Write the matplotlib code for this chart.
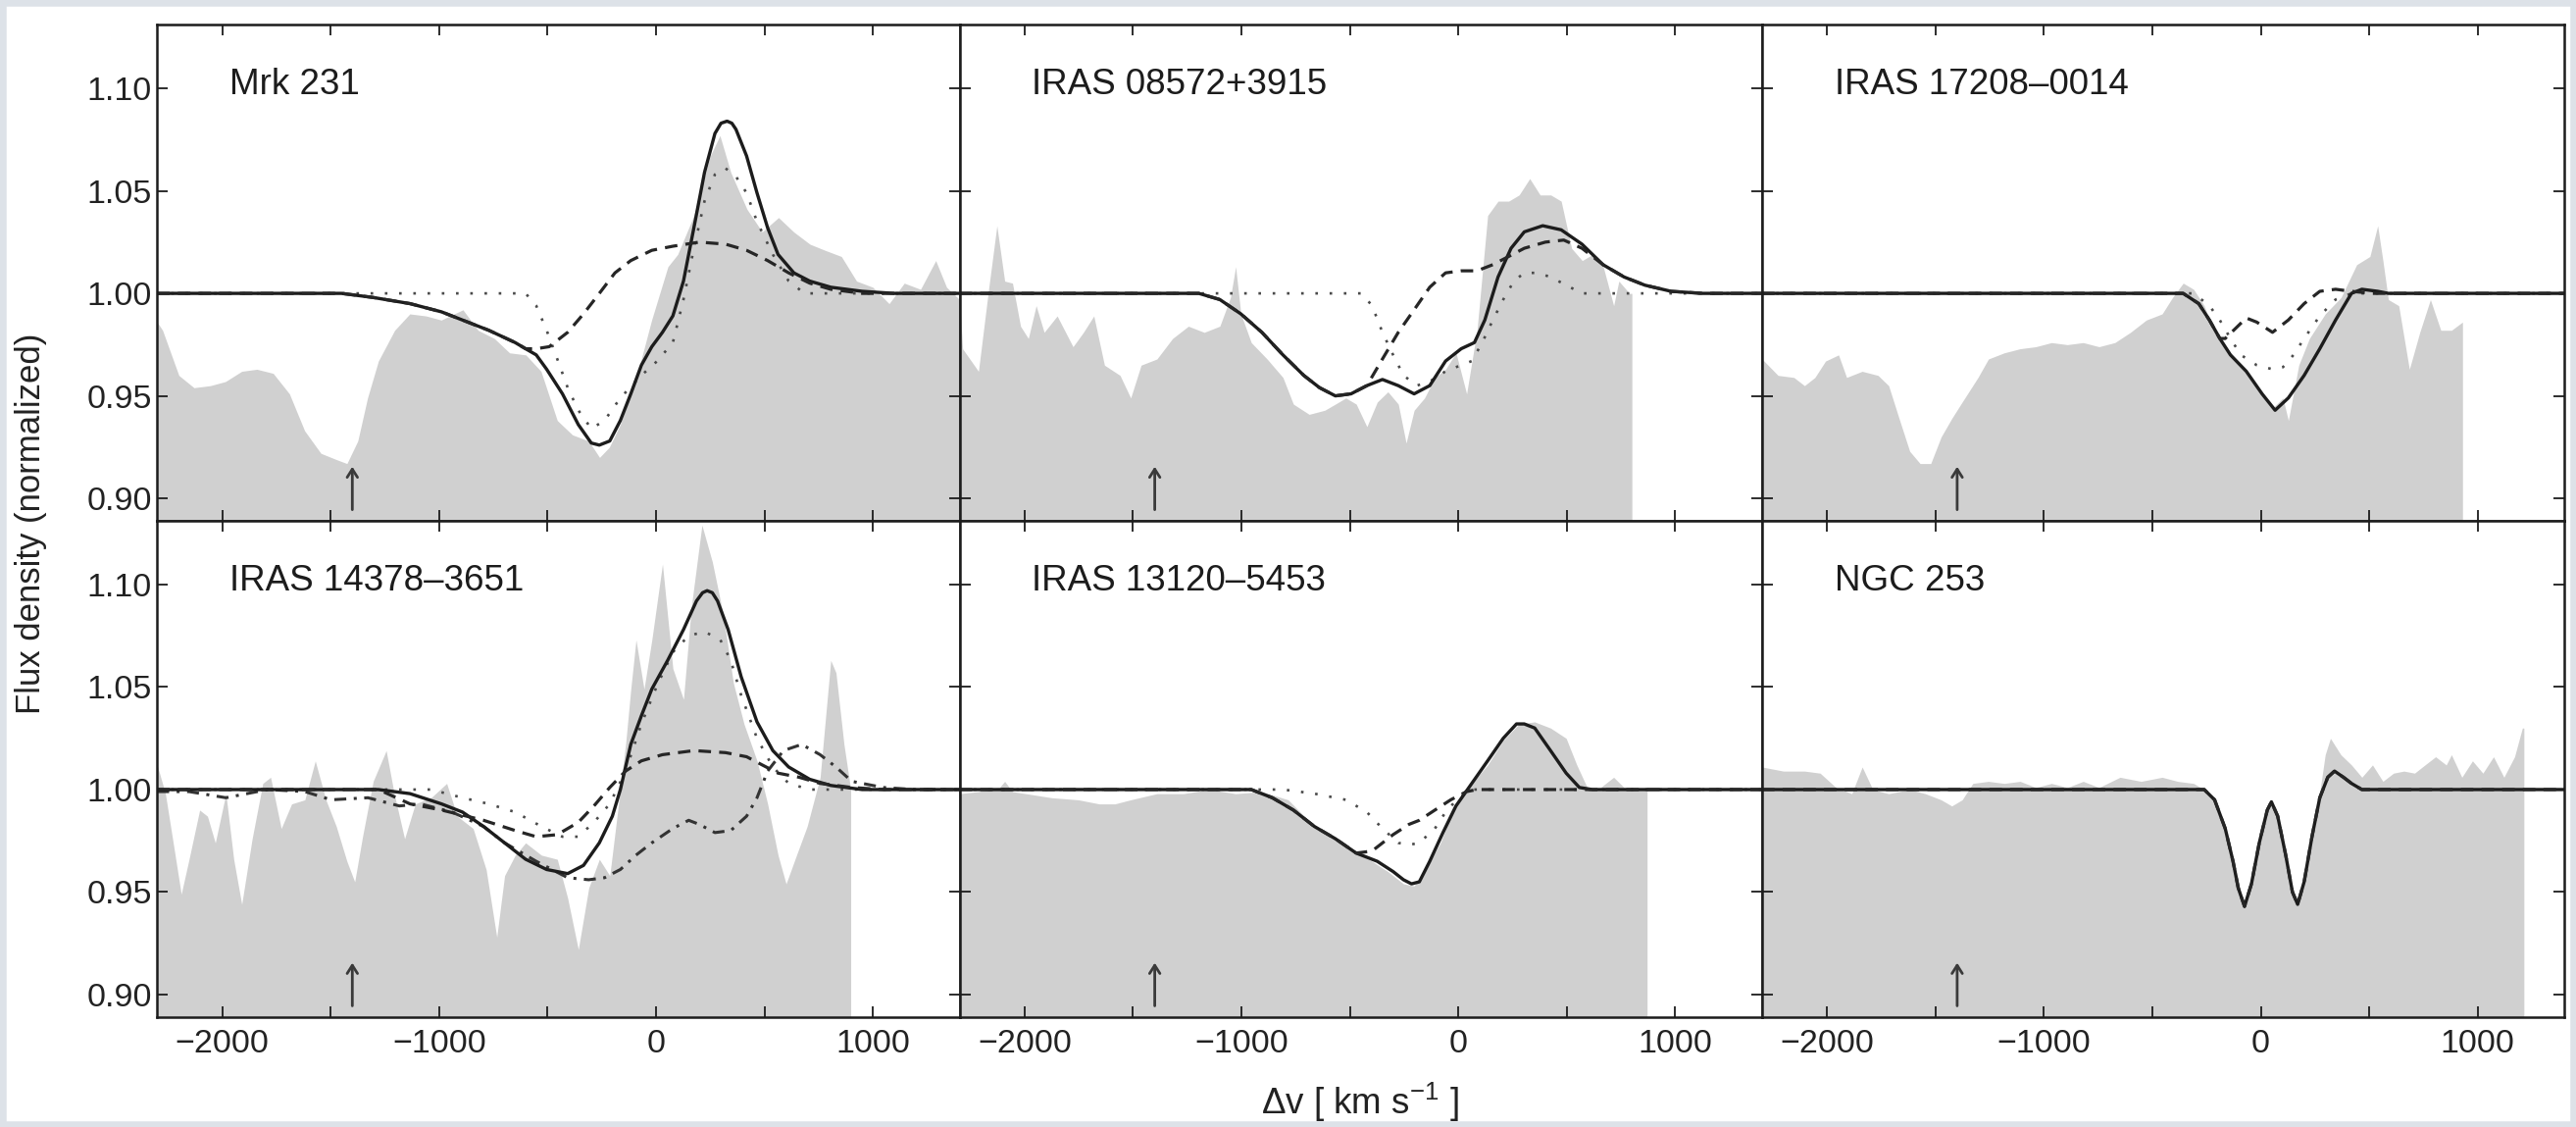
#coding:utf8
import matplotlib
matplotlib.use('Agg')
import matplotlib.pyplot as plt
from matplotlib.ticker import FixedLocator, FormatStrFormatter
from matplotlib.patches import Rectangle
import numpy as np

plt.rcParams['font.family'] = ['Liberation Sans', 'DejaVu Sans']
plt.rcParams['mathtext.fontset'] = 'custom'
plt.rcParams['mathtext.rm'] = 'Liberation Sans'
plt.rcParams['mathtext.default'] = 'regular'

# 面板名称
panel_names = ['Mrk 231', 'IRAS 08572+3915', 'IRAS 17208\u20130014',
               'IRAS 14378\u20133651', 'IRAS 13120\u20135453', 'NGC 253']

# 箭头位置 (km/s)
arrow_v = -1400

# ---------------- Mrk 231 ----------------
mrk231_spec = [(-2300, 0.986), (-2275, 0.982), (-2200, 0.960), (-2130, 0.954), (-2055, 0.955),
               (-1985, 0.957), (-1910, 0.962), (-1840, 0.963), (-1765, 0.961), (-1690, 0.951),
               (-1620, 0.933), (-1545, 0.922), (-1475, 0.919), (-1425, 0.917), (-1375, 0.928),
               (-1330, 0.949), (-1280, 0.967), (-1205, 0.982), (-1135, 0.990), (-1060, 0.989),
               (-990, 0.987), (-890, 0.992), (-820, 0.982), (-745, 0.978), (-675, 0.971),
               (-600, 0.970), (-530, 0.962), (-455, 0.938), (-385, 0.931), (-310, 0.928),
               (-260, 0.920), (-215, 0.925), (-165, 0.936), (-90, 0.959), (-20, 0.987),
               (55, 1.013), (100, 1.019), (175, 1.038), (250, 1.067), (295, 1.077),
               (345, 1.059), (420, 1.041), (490, 1.030), (565, 1.037), (635, 1.030),
               (710, 1.024), (780, 1.021), (855, 1.018), (925, 1.006), (1000, 1.003),
               (1075, 0.995), (1145, 1.005), (1220, 1.002), (1290, 1.016), (1340, 1.003),
               (1400, 0.997)]
mrk231_total = [(-2300, 1.0), (-1450, 1.0), (-1304, 0.998), (-1134, 0.995), (-989, 0.991),
                (-892, 0.987), (-771, 0.982), (-649, 0.976), (-601, 0.973), (-552, 0.970),
                (-504, 0.963), (-431, 0.951), (-358, 0.936), (-298, 0.927), (-261, 0.926),
                (-213, 0.928), (-164, 0.938), (-116, 0.951), (-67, 0.965), (-19, 0.974),
                (30, 0.981), (78, 0.989), (127, 1.006), (175, 1.032), (224, 1.059),
                (272, 1.078), (300, 1.083), (328, 1.084), (350, 1.083), (369, 1.080),
                (418, 1.067), (466, 1.049), (515, 1.032), (563, 1.019), (636, 1.010),
                (709, 1.006), (806, 1.003), (951, 1.001), (1097, 1.0), (1400, 1.0)]
mrk231_outflow = [(-2300, 1.0), (-1450, 1.0), (-1304, 0.998), (-1134, 0.995), (-989, 0.991),
                  (-892, 0.987), (-771, 0.982), (-649, 0.976), (-601, 0.973), (-552, 0.973),
                  (-492, 0.974), (-407, 0.981), (-334, 0.990), (-261, 1.000), (-189, 1.010),
                  (-116, 1.016), (-19, 1.021), (78, 1.023), (200, 1.025), (321, 1.024),
                  (418, 1.021), (515, 1.016), (612, 1.010), (709, 1.005), (806, 1.002),
                  (951, 1.0), (1400, 1.0)]
mrk231_core = [(-2300, 1.0), (-601, 1.0), (-552, 0.994), (-504, 0.982), (-455, 0.968),
               (-407, 0.954), (-358, 0.943), (-298, 0.934), (-237, 0.938), (-164, 0.949),
               (-67, 0.960), (6, 0.967), (78, 0.976), (127, 0.997), (175, 1.022),
               (224, 1.045), (272, 1.058), (321, 1.061), (369, 1.057), (418, 1.049),
               (466, 1.035), (539, 1.019), (612, 1.006), (685, 1.0), (1400, 1.0)]

# ---------------- IRAS 08572+3915 ----------------
i08572_spec = [(-2300, 0.998), (-2286, 0.973), (-2213, 0.962), (-2165, 1.003), (-2128, 1.033),
               (-2092, 1.006), (-2056, 1.005), (-2019, 0.984), (-1983, 0.978), (-1947, 0.994),
               (-1910, 0.981), (-1850, 0.989), (-1777, 0.974), (-1729, 0.981), (-1681, 0.989),
               (-1632, 0.965), (-1560, 0.960), (-1511, 0.949), (-1463, 0.965), (-1390, 0.968),
               (-1318, 0.978), (-1245, 0.984), (-1172, 0.981), (-1100, 0.984), (-1051, 0.998),
               (-1027, 1.013), (-1003, 0.990), (-955, 0.976), (-882, 0.968), (-809, 0.959),
               (-761, 0.946), (-688, 0.941), (-616, 0.943), (-567, 0.946), (-519, 0.949),
               (-471, 0.946), (-422, 0.935), (-374, 0.947), (-325, 0.952), (-277, 0.946),
               (-241, 0.927), (-204, 0.943), (-156, 0.949), (-108, 0.959), (-59, 0.963),
               (-11, 0.971), (38, 0.951), (86, 0.982), (135, 1.038), (183, 1.045),
               (232, 1.045), (280, 1.048), (329, 1.056), (377, 1.048), (426, 1.048),
               (474, 1.045), (522, 1.022), (571, 1.016), (619, 1.019), (668, 1.013),
               (716, 0.994), (740, 1.006), (789, 1.000), (800, 1.000)]
i08572_total = [(-2300, 1.0), (-1197, 1.0), (-1100, 0.997), (-1003, 0.990), (-906, 0.981),
                (-809, 0.970), (-713, 0.960), (-640, 0.954), (-567, 0.950), (-495, 0.951),
                (-422, 0.955), (-350, 0.958), (-277, 0.955), (-204, 0.951), (-132, 0.955),
                (-59, 0.967), (13, 0.973), (74, 0.976), (122, 0.987), (183, 1.008),
                (243, 1.022), (304, 1.030), (389, 1.033), (474, 1.031), (570, 1.024),
                (667, 1.014), (764, 1.008), (860, 1.004), (981, 1.001), (1127, 1.0),
                (1400, 1.0)]
i08572_outflow = [(-2300, 1.0), (-1197, 1.0), (-1100, 0.997), (-1003, 0.990), (-906, 0.981),
                  (-809, 0.970), (-713, 0.960), (-640, 0.954), (-567, 0.950), (-495, 0.951),
                  (-422, 0.955), (-350, 0.968), (-277, 0.981), (-204, 0.992), (-132, 1.003),
                  (-59, 1.010), (13, 1.011), (86, 1.011), (159, 1.014), (232, 1.018),
                  (304, 1.022), (401, 1.025), (486, 1.026), (570, 1.022), (667, 1.014),
                  (764, 1.008), (860, 1.004), (981, 1.001), (1127, 1.0), (1400, 1.0)]
i08572_core = [(-2300, 1.0), (-446, 1.0), (-398, 0.994), (-350, 0.981), (-301, 0.970),
               (-253, 0.960), (-192, 0.955), (-132, 0.957), (-59, 0.962), (13, 0.965),
               (62, 0.967), (110, 0.976), (159, 0.987), (207, 0.997), (256, 1.006),
               (304, 1.010), (364, 1.010), (425, 1.008), (497, 1.004), (570, 1.0),
               (1400, 1.0)]

# ---------------- IRAS 17208-0014 ----------------
i17208_spec = [(-2300, 0.968), (-2226, 0.960), (-2153, 0.959), (-2104, 0.955), (-2056, 0.959),
               (-2007, 0.967), (-1947, 0.970), (-1910, 0.959), (-1838, 0.962), (-1765, 0.960),
               (-1716, 0.955), (-1668, 0.939), (-1619, 0.923), (-1571, 0.917), (-1522, 0.917),
               (-1474, 0.930), (-1425, 0.939), (-1377, 0.947), (-1304, 0.959), (-1256, 0.968),
               (-1183, 0.971), (-1110, 0.973), (-1037, 0.974), (-965, 0.976), (-892, 0.975),
               (-819, 0.976), (-746, 0.974), (-673, 0.976), (-601, 0.981), (-528, 0.987),
               (-455, 0.990), (-407, 0.998), (-358, 1.005), (-310, 1.002), (-261, 0.994),
               (-213, 0.981), (-164, 0.974), (-92, 0.965), (-19, 0.954), (54, 0.944),
               (102, 0.949), (127, 0.938), (175, 0.965), (224, 0.978), (297, 0.990),
               (370, 0.998), (442, 1.014), (503, 1.018), (539, 1.033), (563, 1.016),
               (588, 0.997), (636, 0.994), (685, 0.963), (733, 0.981), (782, 0.997),
               (830, 0.982), (879, 0.982), (930, 0.986)]
i17208_total = [(-2300, 1.0), (-358, 1.0), (-286, 0.995), (-237, 0.987), (-189, 0.978),
                (-140, 0.970), (-67, 0.962), (6, 0.951), (66, 0.943), (127, 0.949),
                (200, 0.960), (272, 0.973), (345, 0.987), (418, 1.000), (466, 1.002),
                (539, 1.001), (588, 1.0), (1400, 1.0)]
i17208_outflow = [(-2300, 1.0), (-358, 1.0), (-286, 0.995), (-237, 0.987), (-189, 0.978),
                  (-164, 0.978), (-67, 0.988), (-19, 0.986), (54, 0.981), (127, 0.987),
                  (200, 0.995), (272, 1.001), (345, 1.002), (418, 1.001), (515, 1.0),
                  (1400, 1.0)]
i17208_core = [(-2300, 1.0), (-310, 1.0), (-237, 0.994), (-189, 0.987), (-140, 0.978),
               (-92, 0.970), (-19, 0.965), (54, 0.963), (102, 0.964), (151, 0.970),
               (200, 0.978), (272, 0.989), (345, 0.997), (418, 1.0), (1400, 1.0)]

# ---------------- IRAS 14378-3651 ----------------
i14378_spec = [(-2300, 1.012), (-2262, 0.998), (-2226, 0.974), (-2189, 0.949), (-2153, 0.966),
               (-2104, 0.990), (-2068, 0.987), (-2032, 0.974), (-1983, 0.998), (-1947, 0.966),
               (-1910, 0.944), (-1862, 0.976), (-1813, 1.003), (-1777, 1.006), (-1728, 0.981),
               (-1680, 0.993), (-1619, 0.995), (-1571, 1.014), (-1522, 0.995), (-1474, 0.982),
               (-1425, 0.965), (-1389, 0.955), (-1353, 0.977), (-1304, 1.004), (-1244, 1.019),
               (-1207, 0.998), (-1159, 0.976), (-1110, 0.993), (-1037, 0.996), (-965, 1.003),
               (-916, 0.987), (-843, 0.981), (-783, 0.961), (-734, 0.928), (-698, 0.958),
               (-649, 0.968), (-601, 0.974), (-528, 0.968), (-455, 0.966), (-407, 0.947),
               (-358, 0.922), (-310, 0.952), (-261, 0.966), (-213, 0.958), (-176, 0.990),
               (-140, 1.022), (-116, 1.049), (-92, 1.073), (-55, 1.049), (-19, 1.073),
               (30, 1.110), (78, 1.059), (127, 1.044), (163, 1.089), (212, 1.129),
               (260, 1.111), (309, 1.086), (357, 1.052), (406, 1.032), (466, 1.014),
               (515, 0.993), (563, 0.968), (600, 0.954), (648, 0.968), (697, 0.982),
               (757, 1.006), (806, 1.063), (830, 1.057), (867, 1.022), (898, 1.000)]
i14378_total = [(-2300, 1.0), (-1280, 1.0), (-1134, 0.998), (-989, 0.993), (-892, 0.989),
                (-795, 0.982), (-698, 0.974), (-601, 0.966), (-504, 0.961), (-407, 0.959),
                (-334, 0.963), (-261, 0.974), (-201, 0.987), (-164, 1.000), (-116, 1.022),
                (-67, 1.036), (-19, 1.049), (54, 1.063), (127, 1.078), (187, 1.092),
                (215, 1.096), (236, 1.097), (260, 1.096), (284, 1.092), (333, 1.078),
                (393, 1.055), (466, 1.033), (539, 1.019), (612, 1.011), (709, 1.005),
                (806, 1.002), (951, 1.0), (1400, 1.0)]
i14378_outflow = [(-2300, 1.0), (-1280, 1.0), (-1134, 0.993), (-989, 0.990), (-795, 0.985),
                  (-649, 0.980), (-552, 0.977), (-455, 0.978), (-358, 0.984), (-286, 0.992),
                  (-213, 1.001), (-140, 1.009), (-67, 1.014), (30, 1.017), (175, 1.019),
                  (321, 1.018), (418, 1.016), (490, 1.012), (563, 1.008), (660, 1.006),
                  (757, 1.003), (903, 1.001), (1048, 1.0), (1400, 1.0)]
i14378_second = [(-2300, 0.999), (-2153, 0.999), (-1983, 0.996), (-1789, 1.000), (-1619, 0.999),
                 (-1498, 0.995), (-1328, 0.996), (-1183, 0.992), (-1086, 0.993), (-940, 0.989),
                 (-795, 0.982), (-698, 0.974), (-552, 0.965), (-407, 0.957), (-310, 0.956),
                 (-237, 0.957), (-164, 0.961), (-92, 0.968), (-19, 0.974), (78, 0.981),
                 (151, 0.985), (200, 0.983), (272, 0.979), (345, 0.980), (418, 0.987),
                 (466, 0.996), (515, 1.009), (588, 1.019), (672, 1.022), (757, 1.017),
                 (830, 1.011), (903, 1.004), (1048, 1.001), (1194, 1.0), (1400, 1.0)]
i14378_core = [(-2300, 1.0), (-1037, 1.0), (-892, 0.996), (-771, 0.993), (-649, 0.989),
               (-528, 0.982), (-431, 0.977), (-358, 0.977), (-286, 0.984), (-213, 0.993),
               (-140, 1.009), (-67, 1.032), (6, 1.051), (78, 1.067), (151, 1.075),
               (224, 1.077), (297, 1.073), (345, 1.063), (393, 1.046), (466, 1.025),
               (539, 1.011), (612, 1.003), (709, 1.0), (1400, 1.0)]

# ---------------- IRAS 13120-5453 ----------------
i13120_spec = [(-2300, 0.998), (-2213, 0.999), (-2116, 1.001), (-2092, 1.004), (-2056, 0.999),
               (-1995, 0.998), (-1874, 0.996), (-1753, 0.995), (-1656, 0.993), (-1584, 0.993),
               (-1511, 0.995), (-1390, 0.998), (-1269, 0.998), (-1148, 1.000), (-1027, 0.998),
               (-906, 0.999), (-785, 0.995), (-664, 0.982), (-567, 0.976), (-471, 0.969),
               (-398, 0.965), (-325, 0.960), (-253, 0.954), (-204, 0.953), (-156, 0.960),
               (-83, 0.974), (-35, 0.987), (13, 0.996), (62, 1.003), (135, 1.012),
               (207, 1.024), (280, 1.032), (352, 1.033), (425, 1.030), (497, 1.025),
               (546, 1.012), (594, 1.001), (643, 1.000), (716, 1.006), (764, 1.001),
               (812, 1.000), (870, 1.000)]
i13120_total = [(-2300, 1.0), (-955, 1.0), (-858, 0.996), (-761, 0.990), (-664, 0.982),
                (-567, 0.976), (-471, 0.969), (-374, 0.965), (-301, 0.960), (-253, 0.956),
                (-216, 0.954), (-180, 0.955), (-132, 0.965), (-71, 0.979), (-11, 0.992),
                (62, 1.003), (135, 1.014), (207, 1.025), (268, 1.032), (304, 1.032),
                (352, 1.030), (425, 1.019), (497, 1.008), (558, 1.001), (618, 1.0),
                (1400, 1.0)]
i13120_outflow = [(-2300, 1.0), (-955, 1.0), (-858, 0.996), (-761, 0.990), (-664, 0.982),
                  (-567, 0.976), (-471, 0.969), (-398, 0.970), (-301, 0.978), (-228, 0.983),
                  (-180, 0.985), (-108, 0.990), (-35, 0.995), (38, 0.999), (86, 1.0),
                  (1400, 1.0)]
i13120_core = [(-2300, 1.0), (-809, 1.0), (-664, 0.998), (-519, 0.995), (-422, 0.989),
               (-350, 0.981), (-277, 0.974), (-228, 0.973), (-180, 0.974), (-108, 0.981),
               (-59, 0.989), (1, 0.996), (62, 1.0), (1400, 1.0)]

# ---------------- NGC 253 ----------------
n253_spec = [(-2300, 1.011), (-2201, 1.009), (-2104, 1.009), (-2032, 1.008), (-1959, 1.001),
             (-1886, 0.998), (-1838, 1.011), (-1789, 1.000), (-1716, 0.998), (-1619, 1.000),
             (-1547, 0.998), (-1474, 0.995), (-1425, 0.992), (-1377, 0.995), (-1328, 1.003),
             (-1256, 1.004), (-1183, 1.003), (-1110, 1.004), (-1037, 1.001), (-965, 1.003),
             (-892, 1.001), (-819, 1.004), (-746, 1.001), (-649, 1.006), (-552, 1.004),
             (-455, 1.006), (-383, 1.004), (-310, 1.003), (-261, 1.000), (-213, 0.995),
             (-164, 0.982), (-116, 0.961), (-79, 0.944), (-43, 0.958), (6, 0.982),
             (49, 0.995), (90, 0.981), (127, 0.957), (170, 0.944), (212, 0.961),
             (260, 0.990), (297, 1.017), (321, 1.025), (369, 1.017), (418, 1.012),
             (466, 1.006), (515, 1.012), (563, 1.004), (612, 1.008), (660, 1.009),
             (709, 1.008), (757, 1.012), (806, 1.016), (855, 1.012), (879, 1.017),
             (927, 1.006), (976, 1.014), (1024, 1.008), (1073, 1.016), (1121, 1.006),
             (1170, 1.016), (1206, 1.030), (1213, 1.030)]
n253_total = [(-2300, 1.0), (-261, 1.0), (-213, 0.995), (-164, 0.981), (-128, 0.965),
              (-104, 0.952), (-75, 0.943), (-43, 0.954), (-7, 0.974), (30, 0.990),
              (49, 0.994), (78, 0.987), (115, 0.968), (146, 0.950), (170, 0.944),
              (200, 0.955), (236, 0.977), (272, 0.996), (309, 1.006), (340, 1.009),
              (381, 1.006), (418, 1.003), (466, 1.0), (1400, 1.0)]

panel_spec = [mrk231_spec, i08572_spec, i17208_spec, i14378_spec, i13120_spec, n253_spec]
panel_total = [mrk231_total, i08572_total, i17208_total, i14378_total, i13120_total, n253_total]
panel_outflow = [mrk231_outflow, i08572_outflow, i17208_outflow, i14378_outflow, i13120_outflow, n253_total]
panel_core = [mrk231_core, i08572_core, i17208_core, i14378_core, i13120_core, None]
panel_second = [None, None, None, i14378_second, None, None]

ink = '#1c1c1c'


def drawCurve(ax, pts, **kw):
    """画一条模型曲线"""
    if pts is None:
        return
    v, f = np.array(pts).T
    ax.plot(v, f, solid_capstyle='round', solid_joinstyle='round', dash_capstyle='butt', **kw)


def plotPanel(ax, i):
    """
    函数说明:绘制单个面板
    """
    v, f = np.array(panel_spec[i]).T
    # 灰色光谱
    ax.fill_between(v, 0.85, f, color='#d0d0d0', lw=0, zorder=1)

    # 模型曲线
    drawCurve(ax, panel_core[i], ls=(0, (1, 4.5)), lw=1.9, color='#4a4a4a', zorder=3)
    drawCurve(ax, panel_second[i], ls=(0, (4, 2.5, 1, 2.5)), lw=2.2, color='#333333', zorder=3)
    drawCurve(ax, panel_total[i], ls='-', lw=2.4, color=ink, zorder=4)
    drawCurve(ax, panel_outflow[i], ls=(0, (4, 2.6)), lw=2.3, color='#262626', zorder=5)

    # 箭头
    ax.annotate('', xy=(arrow_v, 0.9155), xytext=(arrow_v, 0.8945),
                arrowprops=dict(arrowstyle='->,head_length=0.6,head_width=0.38',
                                color='#3a3a3a', lw=2.0, shrinkA=0, shrinkB=0), zorder=6)

    ax.text(0.09, 0.878, panel_names[i], transform=ax.transAxes, fontsize=26.5,
            ha='left', va='center', color=ink, zorder=7)

    ax.set_xlim(-2300, 1400)
    ax.set_ylim(0.889, 1.131)
    ax.xaxis.set_major_locator(FixedLocator([-2000, -1000, 0, 1000]))
    ax.xaxis.set_minor_locator(FixedLocator([-1500, -500, 500]))
    ax.yaxis.set_major_locator(FixedLocator([0.90, 0.95, 1.00, 1.05, 1.10]))
    ax.yaxis.set_major_formatter(FormatStrFormatter('%.2f'))
    ax.tick_params(which='both', direction='in', top=True, right=True,
                   length=8, width=1.3, color=ink, labelsize=24.5, labelcolor='#222222')
    ax.tick_params(axis='x', pad=9)
    ax.tick_params(axis='y', pad=4)
    for sp in ax.spines.values():
        sp.set_linewidth(1.8)
        sp.set_color(ink)
        sp.set_zorder(8)


fig, axes = plt.subplots(2, 3, figsize=(26.27, 11.49), dpi=100)
fig.subplots_adjust(left=0.061, right=0.9955, top=0.978, bottom=0.0975, wspace=0, hspace=0)

for i, ax in enumerate(axes.flat):
    plotPanel(ax, i)
    row, col = divmod(i, 3)
    ax.tick_params(labelleft=(col == 0), labelbottom=(row == 1))

fig.text(0.012, 0.535, 'Flux density (normalized)', rotation=90, fontsize=25,
         ha='center', va='center', color='#222222')
fig.text(0.528, 0.022, '\u0394v [ km s$^{-1}$ ]', fontsize=26.5,
         ha='center', va='center', color='#222222')

# 外框
fig.patches.append(Rectangle((0, 0), 1, 1, transform=fig.transFigure, fill=False,
                             edgecolor='#dde2e8', linewidth=9))

fig.savefig('out.png', dpi=100)
